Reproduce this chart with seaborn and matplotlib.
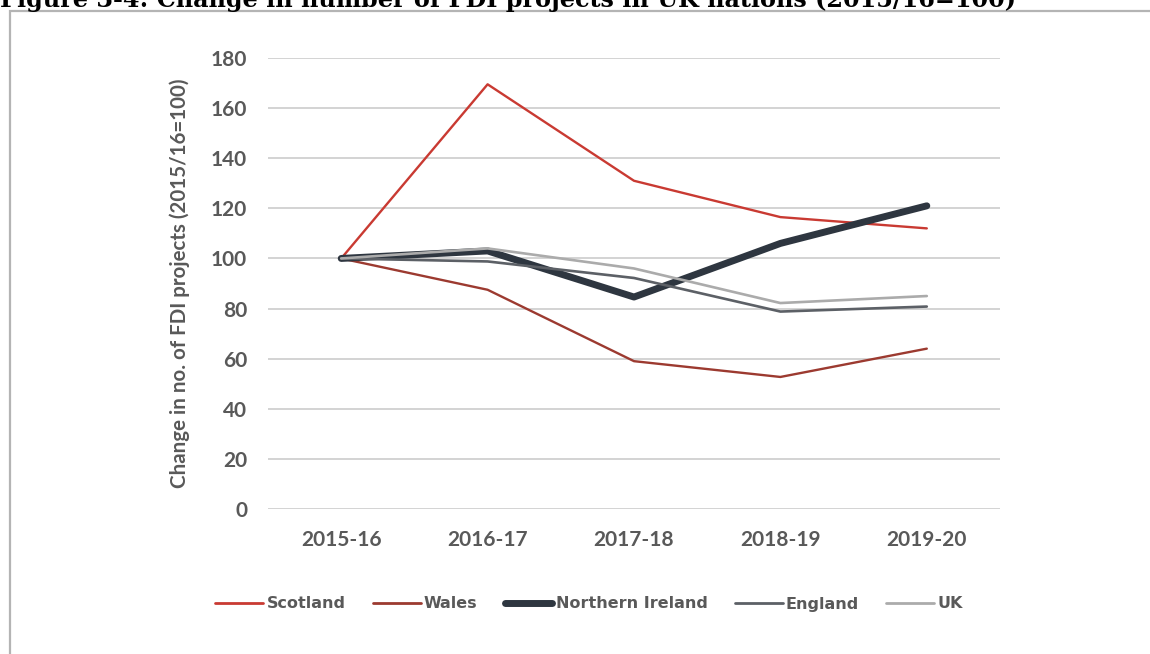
import matplotlib
matplotlib.use("Agg")
import matplotlib.pyplot as plt
import seaborn as sns
import pandas as pd
from matplotlib.patches import Rectangle
from matplotlib.lines import Line2D

years = ["2015-16", "2016-17", "2017-18", "2018-19", "2019-20"]
scotland = [100, 169.5, 131, 116.5, 112]
wales = [100, 87.5, 59, 52.7, 64]
northern_ireland = [100, 103, 84.6, 106, 121]
england = [100, 98.8, 92.2, 78.8, 80.8]
uk = [100, 104, 96, 82.2, 85]

series = ["Scotland", "Wales", "Northern Ireland", "England", "UK"]
colors = ["#c93a32", "#9c3a30", "#2e3640", "#5c6066", "#ababab"]
widths = [1.7, 1.7, 5.0, 1.9, 1.9]

df = pd.DataFrame({
    "year": years * 5,
    "value": scotland + wales + northern_ireland + england + uk,
    "series": sum([[s] * len(years) for s in series], []),
})

sns.set_theme(style="white")
plt.rcParams["font.family"] = ["Lato", "DejaVu Sans"]

fig = plt.figure(figsize=(11.5, 6.54), dpi=100)
fig.patch.set_facecolor("white")

# outer frame around the chart
fig.add_artist(Rectangle((10 / 1150, -0.1), 1.2, 1 - 11 / 654 + 0.1,
                         transform=fig.transFigure, fill=False,
                         edgecolor="#b4b4b4", linewidth=1.6))

fig.text(0.0, 1 - 7 / 654, "Figure 3-4: Change in number of FDI projects in UK nations (2015/16=100)",
         fontsize=17.2, fontweight="bold", family=["DejaVu Serif"], color="black",
         ha="left", va="baseline")

ax = fig.add_axes([268 / 1150, 1 - 509 / 654, 732 / 1150, 451 / 654])
for s, c, w in zip(series, colors, widths):
    sub = df[df["series"] == s]
    sns.lineplot(data=sub, x="year", y="value", ax=ax, color=c, linewidth=w,
                 sort=False, solid_capstyle="round", solid_joinstyle="round")

ax.set_xlim(-0.5, 4.5)
ax.set_ylim(0, 180)
ax.set_yticks(range(0, 181, 20))
ax.grid(axis="y", color="#cccccc", linewidth=1.2)
ax.grid(axis="x", visible=False)
ax.set_axisbelow(True)
for sp in ax.spines.values():
    sp.set_visible(False)
ax.tick_params(axis="y", length=0, pad=15, labelsize=15, labelcolor="#595959")
ax.tick_params(axis="x", length=0, pad=15, labelsize=15, labelcolor="#595959")
for lbl in ax.get_xticklabels() + ax.get_yticklabels():
    lbl.set_fontweight("bold")
ax.set_xlabel("")
ax.set_ylabel("Change in no. of FDI projects (2015/16=100)", fontsize=14.8,
              fontweight="bold", color="#595959", labelpad=15)

handles = [Line2D([0], [0], color=c, linewidth=(w if w > 3 else 2.0), solid_capstyle="round")
           for c, w in zip(colors, widths)]
leg = fig.legend(handles, series, loc="center", bbox_to_anchor=(589 / 1150, 1 - 604 / 654),
                 ncol=5, frameon=False, handlelength=3.0, handletextpad=0.2,
                 columnspacing=1.7,
                 prop={"family": "DejaVu Sans", "weight": "bold", "size": 11.5})
for t in leg.get_texts():
    t.set_color("#595959")

fig.savefig("out.png", dpi=100, facecolor="white")
